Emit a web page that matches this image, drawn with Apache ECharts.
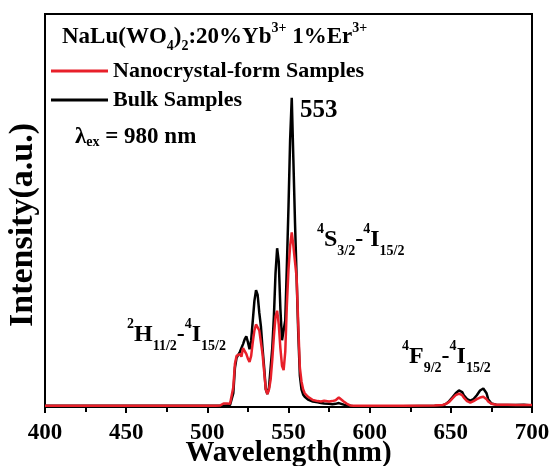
<!DOCTYPE html>
<html><head><meta charset="utf-8">
<script src="https://cdn.jsdelivr.net/npm/echarts@6/dist/echarts.min.js"></script>
<style>html,body{margin:0;padding:0;background:#fff}#c{width:551px;height:466px}</style>
</head><body><div id="c"></div>
<script>
// ---- data ----
const wavelengths = [400,450,500,505,508,510,511,512,513,514,515,516,517,518,519,520,521,522,523,524,525,526,527,528,529,530,531,532,533,534,535,536,537,538,539,540,541,542,543,544,545,546,547,548,549,550,551,552,553,554,555,556,557,558,559,560,561,562,563,565,568,570,572,575,577,579,581,582,584,586,588,590,600,620,640,645,647,649,651,653,655,656,657,658,660,662,664,666,668,670,671,672,673,675,678,685,690,695,700];
const bulkSamples = [0.3,0.3,0.3,0.3,0.3,0.3,0.3,0.4,0.4,0.5,0.8,3.5,10,12.5,13,14,14.5,16,17.2,18,16.5,14.7,17,22,27,29.7,28.5,24,20.5,15,10,4.5,3.3,5,10,15,23,34,40.4,37,25,17,16.5,22,36,51,68,78.7,63,47,33,19,8,4.5,3.2,2.6,2.2,1.9,1.7,1.4,1.2,1.0,0.9,0.8,0.7,0.8,1.0,0.9,0.6,0.4,0.3,0.2,0.2,0.2,0.3,0.4,0.8,1.5,2.5,3.5,4.2,4.3,3.8,3.0,2.0,1.6,2.0,3.0,4.2,4.7,4.5,3.5,2.0,0.9,0.6,0.5,0.5,0.6,0.4];
const nanoSamples = [0.3,0.3,0.3,0.3,0.4,0.9,1.1,0.9,0.7,0.8,1.2,5,11,13,13.2,13.5,12.8,15,15.5,13.5,12.3,11.5,13,16.5,19.5,21,21.2,19.5,16.5,13.5,9,4.5,3.3,4.5,7,12,18,23,24.5,21,15,10.5,9.4,14,26,35,41,44.4,41,37,33,21,10,6.5,4.5,3.5,3,2.6,2.2,1.8,1.5,1.4,1.6,1.4,1.5,1.7,2.4,2.0,1.4,0.8,0.4,0.3,0.3,0.3,0.4,0.5,0.8,1.3,2.2,3.0,3.4,3.5,3.0,2.4,1.5,1.1,1.5,2.0,2.4,2.6,2.5,2.0,1.4,0.8,0.6,0.6,0.5,0.5,0.5];
const seriesNames = ['Nanocrystal-form Samples', 'Bulk Samples'];
const xMin = 400, xMax = 700, xInterval = 50;

const FONT = "'Liberation Serif','Times New Roman',serif";
const RED = '#e8202a';

function richSet(main, sub, L, subLH, supLH) {
  const base = {fontFamily: FONT, fontWeight: 'bold', color: '#000'};
  return {
    m: Object.assign({}, base, {fontSize: main, lineHeight: L}),
    b: Object.assign({}, base, {fontSize: sub, lineHeight: subLH, verticalAlign: 'bottom'}),
    p: Object.assign({}, base, {fontSize: sub, lineHeight: supLH, verticalAlign: 'top'})
  };
}
function label(x, y, text, rich) {
  return {type: 'text', x: x, y: y, z: 100,
    style: {text: text, rich: rich, align: 'left', verticalAlign: 'middle'}};
}
const richTitle = richSet(23, 14, 32, 13, 24);
const richTrans = richSet(24, 14, 36, 14, 26);
const richLam = richSet(23, 14, 24, 14, 24);
const richPeak = richSet(25, 14, 26, 14, 26);

const chart = echarts.init(document.getElementById('c'));
const option = {
  animation: false,
  grid: {left: 45, right: 19, top: 14, bottom: 59, show: true, borderColor: '#000', borderWidth: 2,
         outerBoundsMode: 'none', containLabel: false},
  legend: {
    orient: 'vertical', left: 51, top: 60, padding: 0, itemGap: 7,
    itemWidth: 57, itemHeight: 3, icon: 'rect', selectedMode: false,
    data: seriesNames,
    textStyle: {fontFamily: FONT, fontWeight: 'bold', fontSize: 22, color: '#000'}
  },
  xAxis: {
    type: 'value', min: xMin, max: xMax, interval: xInterval,
    axisLine: {lineStyle: {color: '#000', width: 2}},
    axisTick: {length: 6, lineStyle: {color: '#000', width: 2}},
    minorTick: {show: true, splitNumber: 2, length: 5, lineStyle: {color: '#000', width: 2}},
    splitLine: {show: false},
    axisLabel: {margin: 15, fontFamily: FONT, fontWeight: 'bold', fontSize: 23, color: '#000'},
    name: 'Wavelength(nm)', nameLocation: 'middle', nameGap: 32, nameMoveOverlap: false,
    nameTextStyle: {fontFamily: FONT, fontWeight: 'bold', fontSize: 29, color: '#000'}
  },
  yAxis: {
    type: 'value', min: 0, max: 100,
    axisLine: {show: true, lineStyle: {color: '#000', width: 2}},
    axisTick: {show: false}, axisLabel: {show: false}, splitLine: {show: false}
  },
  series: [
    {name: seriesNames[1], type: 'line', symbol: 'none', showSymbol: false, color: '#000',
     lineStyle: {color: '#000', width: 2.5},
     data: wavelengths.map((w, i) => [w, bulkSamples[i]])},
    {name: seriesNames[0], type: 'line', symbol: 'none', showSymbol: false, color: RED,
     lineStyle: {color: RED, width: 2.5},
     data: wavelengths.map((w, i) => [w, nanoSamples[i]])}
  ],
  graphic: [
    label(62, 37, '{m|NaLu(WO}{b|4}{m|)}{b|2}{m|:20%Yb}{p|3+}{m| 1%Er}{p|3+}', richTitle),
    label(75, 137, '{m|λ}{b|ex}{m| = 980 nm}', richLam),
    label(300, 111, '{m|553}', richPeak),
    label(317, 240, '{p|4}{m|S}{b|3/2}{m|-}{p|4}{m|I}{b|15/2}', richTrans),
    label(127, 335, '{p|2}{m|H}{b|11/2}{m|-}{p|4}{m|I}{b|15/2}', richTrans),
    label(402, 357, '{p|4}{m|F}{b|9/2}{m|-}{p|4}{m|I}{b|15/2}', richTrans),
    {type: 'text', x: 23, y: 225, rotation: Math.PI / 2, z: 100,
     style: {text: 'Intensity(a.u.)', fontFamily: FONT, fontWeight: 'bold', fontSize: 34,
             fill: '#000', align: 'center', verticalAlign: 'middle'}}
  ]
};
chart.setOption(option);
</script>
</body></html>
